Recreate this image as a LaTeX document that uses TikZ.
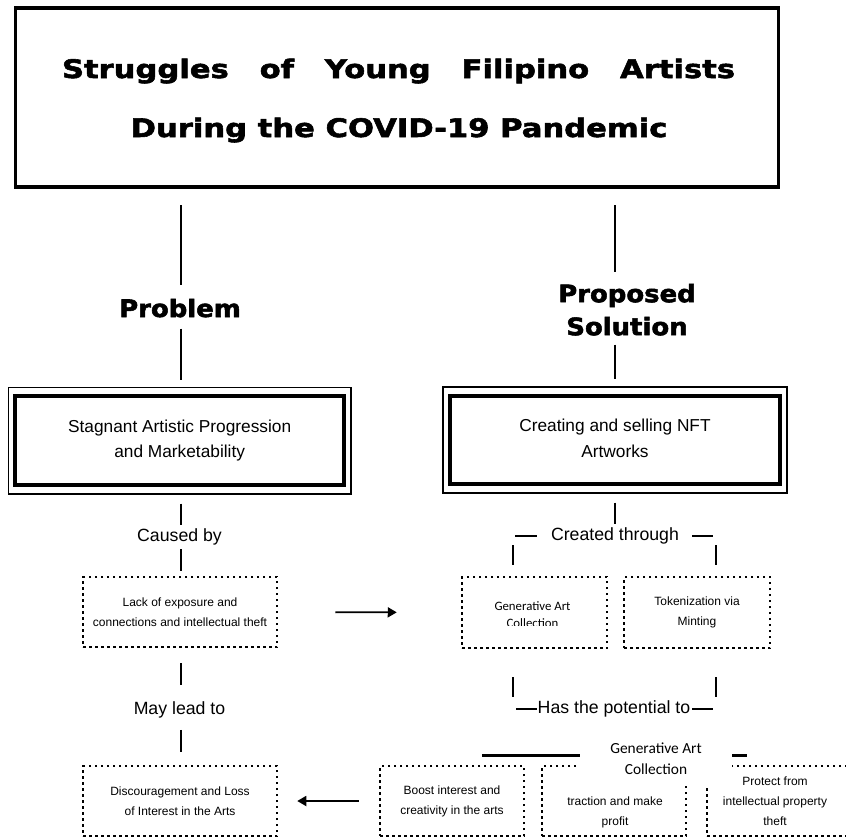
\documentclass[tikz,border=0pt]{standalone}
\usepackage{fontspec}
\setmainfont{Liberation Sans}
\newfontfamily\carl{Carlito}
\newfontfamily\titlef[FakeStretch=1.2,FakeBold=2.2]{DejaVu Sans}
\newfontfamily\headf[FakeStretch=1.08,FakeBold=2.2]{DejaVu Sans}
\usetikzlibrary{arrows.meta}
\newcommand\mybody{\fontsize{17.3}{25.5}\selectfont}
\newcommand\mylabel{\fontsize{17.7}{22}\selectfont}
\newcommand\mysmall{\fontsize{12}{19.8}\selectfont}
\begin{document}
\begin{tikzpicture}[x=1pt,y=-1pt,
  conn/.style={line width=2.3pt},
  dotbox/.style={draw, line width=2.5pt, dash pattern=on 2.5pt off 3.5pt, inner sep=0pt, align=center, font=\mysmall},
  dblbox/.style={draw, line width=1.4pt, inner sep=0pt, align=center, font=\mybody},
  lbl/.style={inner sep=0pt, font=\mylabel},
  smalltxt/.style={inner sep=0pt, align=center, font=\mysmall},
  headtxt/.style={inner sep=0pt, align=center, font=\headf\bfseries\fontsize{24}{33}\selectfont},
  arr/.style={line width=1.8pt, -{Triangle[length=9pt,width=10pt]}},
]
\useasboundingbox (0,0) rectangle (846,838);

% title
\node[draw, line width=3.2pt, minimum width=762.5pt, minimum height=179pt, inner sep=0pt] (title) at (397,97.5) {};
\node[anchor=base, inner sep=0pt, font=\titlef\bfseries\fontsize{25.5}{30}\selectfont] (t1) at (398.5,78)
  {\hbox to 673pt{Struggles\hfill of\hfill Young\hfill Filipino\hfill Artists}};
\node[anchor=base, inner sep=0pt, font=\titlef\bfseries\fontsize{25.5}{30}\selectfont] (t2) at (399,137)
  {During the COVID-19 Pandemic};

% headings
\node[headtxt, anchor=base] (prob) at (180,317) {Problem};
\node[headtxt] (sol) at (627,309.75) {Proposed\\Solution};

\coordinate (cl) at (181,0);
\coordinate (cr) at (615,0);

% double boxes
\node[dblbox, minimum width=342.7pt, minimum height=106.7pt] (lbox) at (179.65,440.65)
  {Stagnant Artistic Progression\\and Marketability};
\draw[line width=4.5pt] ([shift={(7.5,9.5)}]lbox.north west) rectangle ([shift={(-7.5,-9.5)}]lbox.south east);
\node[dblbox, minimum width=344pt, minimum height=106pt] (rbox) at (615,440)
  {Creating and selling NFT\\Artworks\rule[-4pt]{0pt}{0pt}};
\draw[line width=4.5pt] ([shift={(7.5,9.5)}]rbox.north west) rectangle ([shift={(-7.5,-9.5)}]rbox.south east);

% column lines top
\draw[conn, shorten <=16.5pt, shorten >=13.8pt] (title.south -| cl) -- (prob.north -| cl);
\draw[conn, shorten <=11pt, shorten >=7pt] (prob.south -| cl) -- (lbox.north -| cl);
\draw[conn, shorten <=16.5pt, shorten >=11.5pt] (title.south -| cr) -- (sol.north -| cr);
\draw[conn, shorten <=9pt, shorten >=7pt] (sol.south -| cr) -- (rbox.north -| cr);

% left column
\node[lbl, anchor=base] (caused) at (179.5,541.7) {Caused by};
\node[dotbox, minimum width=194pt, minimum height=70pt] (lack) at (180,612)
  {Lack of exposure and\\connections and intellectual theft};
\node[lbl, anchor=base] (mayl) at (179.5,714) {May lead to};
\node[dotbox, minimum width=194pt, minimum height=70pt] (disc) at (180,801)
  {Discouragement and Loss\\of Interest in the Arts};

\draw[conn, shorten <=9pt, shorten >=4pt] (lbox.south -| cl) -- (caused.north -| cl);
\draw[conn, shorten <=3.6pt, shorten >=5pt] (caused.south -| cl) -- (lack.north -| cl);
\draw[conn, shorten <=15pt, shorten >=16pt] (lack.south -| cl) -- (mayl.north -| cl);
\draw[conn, shorten <=12pt, shorten >=13pt] (mayl.south -| cl) -- (disc.north -| cl);

% right column
\node[lbl, anchor=base] (created) at (615,540.7) {Created through};
\node[dotbox, minimum width=145pt, minimum height=71pt] (gen) at (534.5,612.5) {};
\begin{scope}
  \clip (462,560) rectangle (607,625.5);
  \node[inner sep=0pt, align=center, font=\carl\fontsize{12.8}{17.5}\selectfont] (gentxt) at (532.5,614.6)
    {Generative Art\\Collection};
\end{scope}
\node[dotbox, minimum width=146pt, minimum height=71pt, font=\fontsize{12}{20.3}\selectfont] (tok) at (697,612.5)
  {Tokenization via\\Minting};
\node[lbl, anchor=base] (pot) at (614,713.3) {Has the potential to};

\draw[conn, shorten <=9pt, shorten >=4pt] (rbox.south -| cr) -- (created.north -| cr);
\draw[conn] ([xshift=-14pt]created.west) -- ([xshift=-36pt]created.west);
\draw[conn] ([xshift=13pt]created.east) -- ([xshift=34pt]created.east);
\draw[conn] ([xshift=52pt,yshift=11pt]gen.north west) -- ([xshift=52pt,yshift=31pt]gen.north west);
\draw[conn] ([xshift=-55pt,yshift=11pt]tok.north east) -- ([xshift=-55pt,yshift=31pt]tok.north east);
\draw[conn] ([xshift=52pt,yshift=-28pt]gen.south west) -- ([xshift=52pt,yshift=-48pt]gen.south west);
\draw[conn] ([xshift=-55pt,yshift=-28pt]tok.south east) -- ([xshift=-55pt,yshift=-48pt]tok.south east);
\draw[conn] ([xshift=-1pt]pot.west) -- ([xshift=-22pt]pot.west);
\draw[conn] ([xshift=2pt]pot.east) -- ([xshift=23pt]pot.east);

% bottom row
\node[dotbox, minimum width=144pt, minimum height=70pt] (b1) at (452,801)
  {Boost interest and\\creativity in the arts};
\node[dotbox, minimum width=144pt, minimum height=70pt] (b2) at (614,801) {};
\node[dotbox, minimum width=143pt, minimum height=70pt] (b3) at (778.5,801) {};
\node[smalltxt] (b2txt) at (615,812.4) {traction and make\\profit};
\node[smalltxt] (b3txt) at (775,801.5) {Protect from\\intellectual property\\theft};
\draw[line width=2.6pt] ([xshift=103pt,yshift=9pt]b1.north west) -- ([xshift=41pt,yshift=9pt]b3.north west);

% overlay
\node[fill=white, inner sep=0pt, minimum width=152pt, minimum height=55pt, align=center,
      font=\carl\fontsize{15.4}{21.3}\selectfont] (ovl) at (656,758.5) {Generative Art\\Collection};

% arrows
\draw[arr, shorten <=57pt, shorten >=64pt] (lack.east) -- (gen.west);
\draw[arr, shorten <=20pt, shorten >=19pt] (b1.west) -- (disc.east);
\end{tikzpicture}
\end{document}
